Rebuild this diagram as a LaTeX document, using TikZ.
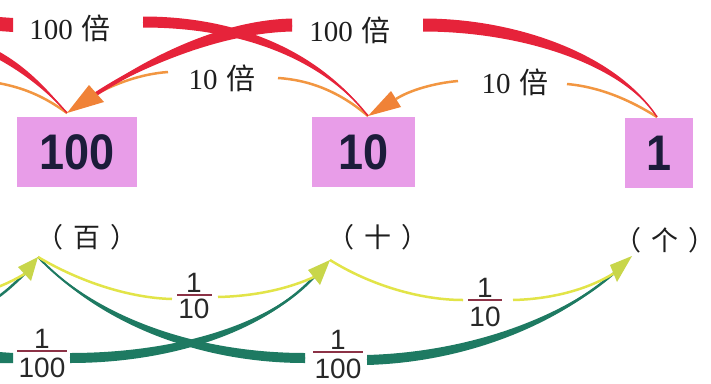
\documentclass[tikz,border=0pt]{standalone}
\usepackage{fontspec}
\setmainfont{Liberation Serif}
\newfontfamily\cjk{Noto Sans CJK SC}
\newfontfamily\sansf{Liberation Sans}
\usetikzlibrary{calc}
\definecolor{redc}{RGB}{230,35,58}
\definecolor{orangel}{RGB}{242,150,65}
\definecolor{orangeh}{RGB}{240,130,55}
\definecolor{boxpink}{RGB}{232,157,232}
\definecolor{boxtext}{RGB}{28,28,58}
\definecolor{yell}{RGB}{226,228,72}
\definecolor{yhead}{RGB}{200,214,74}
\definecolor{greenc}{RGB}{30,122,98}
\definecolor{txt}{RGB}{30,30,30}
\definecolor{frtext}{RGB}{40,40,40}
\definecolor{barc}{RGB}{140,50,70}
\newcommand\mytaper[7]{%
 \fill[#1] (#2) .. controls ($(#3)+(0,-0.5*#6)$) and ($(#4)+(0,-1.0*#6)$) .. ($(#5)+(0,-#6)$) -- ($(#5)+(0,#6)$) .. controls ($(#4)+(0,1.0*#6)$) and ($(#3)+(0,0.5*#6)$) .. (#2) -- cycle;
 \draw[#1,line width=#7] (#2) .. controls (#3) and (#4) .. (#5);}
\begin{document}
\begin{tikzpicture}[x=1pt,y=-1pt,
  box/.style={fill=boxpink, inner sep=0pt, minimum height=70pt, text=boxtext, font=\sansf\bfseries\fontsize{50}{50}\selectfont},
  beilabel/.style={font=\fontsize{29}{29}\selectfont, text=txt, inner sep=0pt},
  unitlabel/.style={font=\cjk\fontsize{27}{27}\selectfont, text=txt, inner sep=0pt},
  frt/.style={font=\sansf\fontsize{28}{28}\selectfont, text=frtext, inner sep=0pt, anchor=base},
  fbar/.style={draw=barc, line width=1.5pt},
  oline/.style={draw=orangel, line width=2.5pt},
  yline/.style={draw=yell, line width=2.5pt},
  ohead/.style={fill=orangeh},
  yhd/.style={fill=yhead},
]
\useasboundingbox (0,0) rectangle (711,383);
\clip (0,0) rectangle (711,383);
\fill[white] (0,0) rectangle (711,383);

% boxes
\node[box, minimum width=120pt] (b100) at (77,152) {\scalebox{0.9}[1]{100}};
\node[box, minimum width=103pt] (b10) at (363.5,152) {\scalebox{0.9}[1]{10}};
\node[box, minimum width=68pt] (b1) at (659,153) {\scalebox{0.9}[1]{1}};

% apex coordinates
\coordinate (p100) at (67,113);
\coordinate (p10) at (368,116);
\coordinate (p1) at (657,117);
\coordinate (a100) at (96,94);
\coordinate (a10) at (396,99);

% top labels
\node[beilabel] (l100a) at (70,28) {100\kern9pt{\cjk 倍}};
\node[beilabel] (l100b) at (350,30) {100\kern9pt{\cjk 倍}};
\node[beilabel] (l10a) at (222,78) {10\kern9pt{\cjk 倍}};
\node[beilabel] (l10b) at (515,82) {10\kern9pt{\cjk 倍}};

% orange thin lines
\draw[oline] (p10) .. controls (340,92) and (310,80) .. (278,78);
\draw[oline] (168,72) .. controls (140,74) and (115,84) .. (a100);
\draw[oline] (p1) .. controls (630,100) and (600,87) .. (567,84);
\draw[oline] (458,81) .. controls (435,83) and (410,90) .. (a10);
\draw[oline] (p100) .. controls (45,97) and (25,88) .. (-2,83);

% red tapered arrows
\mytaper{redc}{p1}{620,60}{520,25}{423,25}{6.5}{1.5pt}
\mytaper{redc}{a100}{130,72}{210,27}{292,25}{6.5}{4pt}
\mytaper{redc}{p10}{320,55}{240,22}{143,22}{5.5}{1.5pt}
\mytaper{redc}{p100}{45,88}{25,70}{-2,55}{4}{1.5pt}
\fill[redc] (-1,17) -- (13,18) -- (13,32) -- (-1,31) -- cycle;

% orange arrowheads
\fill[ohead] (p100) -- (89,85) -- (104,102) -- cycle;
\fill[ohead] (p10) -- (391,91) -- (401,107) -- cycle;

% bottom unit labels
\node[unitlabel] (u100) at (87,237) {\kern-14pt（\kern10pt 百\kern10pt ）\kern-14pt};
\node[unitlabel] (u10) at (378,237) {\kern-14pt（\kern10pt 十\kern10pt ）\kern-14pt};
\node[unitlabel] (u1) at (665,240) {\kern-14pt（\kern10pt 个\kern10pt ）\kern-14pt};

\coordinate (q100) at (38,257);
\coordinate (q10) at (330,260);
\coordinate (q1) at (632,256);
\coordinate (c100) at (24.5,274);
\coordinate (c10) at (314,277);
\coordinate (c1) at (613.5,273.5);

% green tapered
\mytaper{greenc}{q100}{100,322}{200,358}{305,358}{5}{2pt}
\mytaper{greenc}{c1}{560,320}{470,357}{367,360}{5}{2.5pt}
\mytaper{greenc}{c10}{265,330}{170,358}{70,358}{5}{2.5pt}
\fill[greenc] (-1,352) -- (13,353) -- (13,363) -- (-1,363) -- cycle;
\draw[greenc, line width=2.5pt] (-2,297) .. controls (8,290) and (16,282) .. (c100);

% yellow thin lines
\draw[yline] (q100) .. controls (80,282) and (130,298) .. (172,299);
\draw[yline] (218,297) .. controls (260,296) and (292,287) .. (c10);
\draw[yline] (q10) .. controls (370,285) and (420,300) .. (463,300);
\draw[yline] (513,300) .. controls (555,299) and (590,288) .. (c1);
\draw[yline] (-2,287) .. controls (8,283) and (16,279) .. (c100);

% yellow-green arrowheads
\fill[yhd] (q100) -- (18,267) -- (31,281) -- cycle;
\fill[yhd] (q10) -- (308,270) -- (320,285) -- cycle;
\fill[yhd] (q1) -- (610,265) -- (617,282) -- cycle;

% fractions
\node[frt] (f1n) at (194,292) {1};
\draw[fbar] (177,295) -- (212,295);
\node[frt] (f1d) at (194,318) {10};
\node[frt] (f2n) at (485,297) {1};
\draw[fbar] (468,300) -- (502,300);
\node[frt] (f2d) at (485,326) {10};
\node[frt] (f3n) at (42,348) {1};
\draw[fbar] (17,351) -- (67,351);
\node[frt] (f3d) at (42,377) {100};
\node[frt] (f4n) at (338,349) {1};
\draw[fbar] (313,352) -- (363,352);
\node[frt] (f4d) at (338,378) {100};
\end{tikzpicture}
\end{document}
